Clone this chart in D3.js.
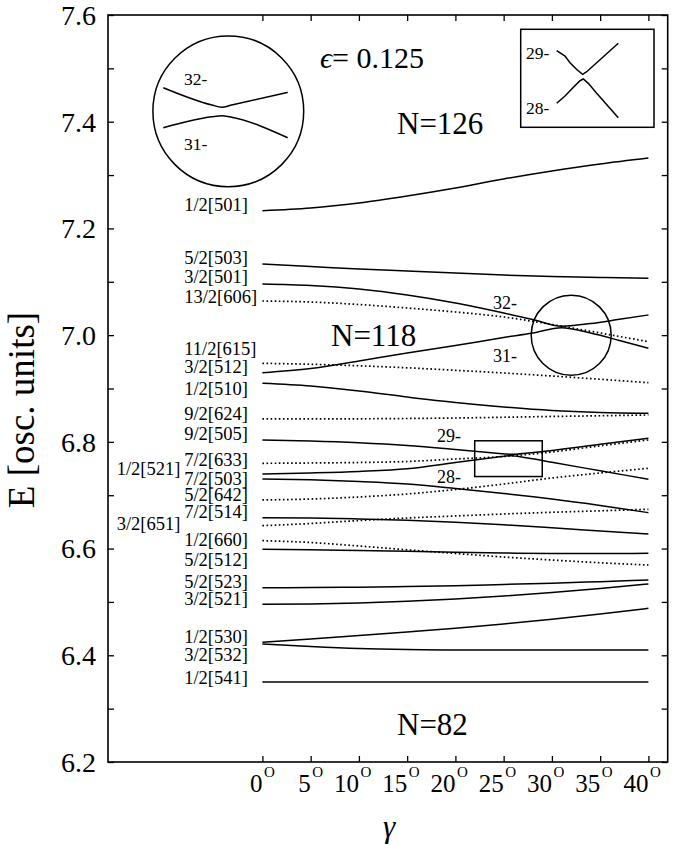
<!DOCTYPE html>
<html><head><meta charset="utf-8">
<script src="https://cdn.jsdelivr.net/npm/d3@7"></script>
<style>
html,body{margin:0;padding:0;background:#fff;}
text{font-family:"Liberation Serif","Times New Roman",serif;fill:#000;}
</style></head>
<body>
<svg id="chart" width="686" height="845"></svg>
<script>
// ---------- data ----------
const gammaTicks = [0,5,10,15,20,25,30,35,40];
const eTicks = [6.2,6.3,6.4,6.5,6.6,6.7,6.8,6.9,7.0,7.1,7.2,7.3,7.4,7.5,7.6];
const eTickLabels = [6.2,6.4,6.6,6.8,7.0,7.2,7.4,7.6];

const gamma   = [0,5,10,15,20,25,30,35,40];
const gamma29 = [0,5,10,15,20,24,25.7,27.5,30,35,40];
const gamma32 = [0,5,10,15,20,25,28,31,34,37,40];

const e1_501  = [7.2332,7.2383,7.2477,7.2608,7.2758,7.2927,7.3076,7.3208,7.3320];
const e5_503  = [7.1334,7.1287,7.1240,7.1202,7.1165,7.1127,7.1099,7.1080,7.1065];
const lev32   = [7.0959,7.0931,7.0865,7.0753,7.0603,7.0415,7.0293,7.0166,7.0218,7.0297,7.0378];
const e13_606 = [7.0640,7.0621,7.0574,7.0509,7.0434,7.0340,7.0200,7.0040,6.9877];
const lev31   = [6.9296,6.9375,6.9516,6.9666,6.9806,6.9956,7.0040,7.0140,7.0040,6.9900,6.9754];
const e11_615 = [6.9472,6.9454,6.9426,6.9388,6.9341,6.9291,6.9234,6.9173,6.9109];
const e1_510  = [6.9098,6.9047,6.8953,6.8841,6.8738,6.8654,6.8588,6.8551,6.8536];
const e9_624  = [6.8429,6.8429,6.8432,6.8438,6.8447,6.8461,6.8476,6.8489,6.8504];
const lev29   = [6.8035,6.8016,6.7983,6.7932,6.7857,6.7791,6.7767,6.7791,6.7840,6.7954,6.8067];
const e7_633  = [6.7598,6.7604,6.7613,6.7632,6.7679,6.7726,6.7810,6.7926,6.8035];
const lev28   = [6.7398,6.7417,6.7445,6.7495,6.7615,6.7705,6.7741,6.7698,6.7617,6.7458,6.7299];
const e7_503  = [6.7304,6.7289,6.7257,6.7210,6.7126,6.7032,6.6929,6.6808,6.6673];
const e5_642  = [6.6911,6.6929,6.6967,6.7023,6.7107,6.7210,6.7323,6.7417,6.7505];
const e7_514  = [6.6579,6.6573,6.6555,6.6530,6.6493,6.6446,6.6390,6.6330,6.6273];
const e3_651  = [6.6429,6.6470,6.6526,6.6573,6.6611,6.6648,6.6680,6.6708,6.6736];
const e1_660  = [6.6148,6.6114,6.6048,6.5977,6.5908,6.5842,6.5786,6.5734,6.5692];
const e5_512  = [6.5987,6.5979,6.5964,6.5949,6.5932,6.5917,6.5908,6.5906,6.5911];
const e5_523  = [6.5267,6.5269,6.5276,6.5288,6.5304,6.5327,6.5351,6.5380,6.5411];
const e3_521  = [6.4956,6.4962,6.4980,6.5012,6.5055,6.5112,6.5177,6.5252,6.5336];
const e1_530  = [6.4244,6.4306,6.4371,6.4437,6.4506,6.4587,6.4675,6.4774,6.4881];
const e3_532  = [6.4212,6.4165,6.4128,6.4109,6.4100,6.4100,6.4100,6.4100,6.4100];
const e1_541  = [6.3500,6.3500,6.3500,6.3500,6.3500,6.3500,6.3500,6.3500,6.3500];

// Nilsson labels at gamma = 0 (text, energy of label, column)
const labelText = ["1/2[501]","5/2[503]","3/2[501]","13/2[606]","11/2[615]","3/2[512]","1/2[510]",
  "9/2[624]","9/2[505]","7/2[633]","1/2[521]","7/2[503]","5/2[642]","7/2[514]","3/2[651]",
  "1/2[660]","5/2[512]","5/2[523]","3/2[521]","1/2[530]","3/2[532]","1/2[541]"];
const labelE = [7.2439,7.1446,7.1090,7.0721,6.9741,6.9409,6.8991,6.8535,6.8161,6.7673,6.7505,
  6.7317,6.7004,6.6691,6.6474,6.6161,6.5786,6.5380,6.5068,6.4349,6.4006,6.3588];
const labelCol = [0,0,0,0,0,0,0,0,0,0,1,0,0,0,1,0,0,0,0,0,0,0];

// level numbers near the crossings: [text, gamma, E]
const crossText = ["32-","31-","29-","28-"];
const crossG = [23.9,23.9,18.1,18.1];
const crossE = [7.0612,6.9619,6.8119,6.7342];

// magnified insets (local units 0..10)
const circU = [0,3.9,4.7,5.5,10];
const circUpper = [10.06,6.6,6.14,6.6,9.14];
const circLower = [2.06,4.26,4.46,4.14,0.06];
const rectUpperU = [0,1.35,2.16,3.34,4.22,4.87,10];
const rectUpperV = [9.0,8.29,7.39,6.41,5.83,6.18,10];
const rectLowerU = [0,1.35,2.44,3.78,4.32,5.13,6.49,10];
const rectLowerV = [1.94,2.92,3.86,4.97,5.2,4.62,3.28,0];

// ---------- chart ----------
const svg = d3.select("#chart");
const L = 108, R = 667.7, T = 15, B = 762;
const x = d3.scaleLinear().domain([-16, 42]).range([L, R]);
const y = d3.scaleLinear().domain([6.2, 7.6]).range([B, T]);

const levels = [
  {g:gamma,e:e1_501,dot:false},{g:gamma,e:e5_503,dot:false},{g:gamma32,e:lev32,dot:false},
  {g:gamma,e:e13_606,dot:true},{g:gamma32,e:lev31,dot:false},{g:gamma,e:e11_615,dot:true},
  {g:gamma,e:e1_510,dot:false},{g:gamma,e:e9_624,dot:true},{g:gamma29,e:lev29,dot:false},
  {g:gamma,e:e7_633,dot:true},{g:gamma29,e:lev28,dot:false},{g:gamma,e:e7_503,dot:false},
  {g:gamma,e:e5_642,dot:true},{g:gamma,e:e7_514,dot:false},{g:gamma,e:e3_651,dot:true},
  {g:gamma,e:e1_660,dot:true},{g:gamma,e:e5_512,dot:false},{g:gamma,e:e5_523,dot:false},
  {g:gamma,e:e3_521,dot:false},{g:gamma,e:e1_530,dot:false},{g:gamma,e:e3_532,dot:false},
  {g:gamma,e:e1_541,dot:false}
];

const line = d3.line().x(d=>x(d[0])).y(d=>y(d[1])).curve(d3.curveMonotoneX);
svg.append("g").selectAll("path").data(levels).join("path")
  .attr("d", d => line(d.g.map((g,i)=>[g,d.e[i]])))
  .attr("fill","none").attr("stroke","#000")
  .attr("stroke-width", d=>d.dot?1.7:1.5)
  .attr("stroke-dasharray", d=>d.dot?"1.6,2.5":null);

// axes (inward ticks, mirrored)
const ax = (a)=>a.tickSizeOuter(0).tickFormat("");
svg.append("g").attr("transform",`translate(0,${B})`)
  .call(ax(d3.axisBottom(x).tickValues(gammaTicks).tickSizeInner(-6)));
svg.append("g").attr("transform",`translate(0,${T})`)
  .call(ax(d3.axisTop(x).tickValues(gammaTicks).tickSizeInner(-6)));
svg.append("g").attr("transform",`translate(${L},0)`)
  .call(ax(d3.axisLeft(y).tickValues(eTicks).tickSizeInner(-6)));
svg.append("g").attr("transform",`translate(${R},0)`)
  .call(ax(d3.axisRight(y).tickValues(eTicks).tickSizeInner(-6)));
svg.selectAll(".domain").remove();
svg.selectAll(".tick line").attr("stroke","#000").attr("stroke-width",1.3);
svg.append("rect").attr("x",L).attr("y",T).attr("width",R-L).attr("height",B-T)
  .attr("fill","none").attr("stroke","#000").attr("stroke-width",1.6);

// y tick labels
svg.append("g").selectAll("text").data(eTickLabels).join("text")
  .attr("x",96).attr("y",d=>y(d)).attr("dy","0.35em").attr("text-anchor","end")
  .attr("font-size",28).text(d=>d.toFixed(1));

// x tick labels with superscript O
const xl = svg.append("g");
xl.selectAll("text.n").data(gammaTicks).join("text").attr("class","n")
  .attr("x",d=>x(d)).attr("y",792).attr("text-anchor","end").attr("font-size",25).text(d=>d);
xl.selectAll("text.o").data(gammaTicks).join("text").attr("class","o")
  .attr("x",d=>x(d)+1.5).attr("y",777).attr("font-size",15).text("O");

// axis titles
svg.append("text").attr("x",389).attr("y",837).attr("text-anchor","middle")
  .attr("font-size",31).attr("font-style","italic").text("γ");
svg.append("text").attr("transform","translate(34,410) rotate(-90)").attr("text-anchor","middle")
  .attr("font-size",37).text("E [osc. units]");

// Nilsson labels
svg.append("g").selectAll("text").data(labelText).join("text")
  .attr("x",(d,i)=>labelCol[i]?x(-15.1):x(-8.1)).attr("y",(d,i)=>y(labelE[i])).attr("dy","0.35em")
  .attr("font-size",18.5).text(d=>d);

// shell labels
svg.append("text").attr("x",397).attr("y",134).attr("font-size",31).text("N=126");
svg.append("text").attr("x",331).attr("y",346).attr("font-size",31).text("N=118");
svg.append("text").attr("x",397).attr("y",735).attr("font-size",31).text("N=82");
const eps = svg.append("text").attr("x",320).attr("y",68).attr("font-size",30);
eps.append("tspan").attr("font-style","italic").text("ϵ");
eps.append("tspan").text("= 0.125");

// crossing labels
svg.append("g").selectAll("text").data(crossText).join("text")
  .attr("x",(d,i)=>x(crossG[i])).attr("y",(d,i)=>y(crossE[i])).attr("dy","0.35em")
  .attr("font-size",18).text(d=>d);

// markers of the crossing regions
svg.append("circle").attr("cx",x(32)).attr("cy",y(7.0)).attr("r",40)
  .attr("fill","none").attr("stroke","#000").attr("stroke-width",1.5);
svg.append("rect").attr("x",x(22)).attr("y",y(6.802)).attr("width",x(29)-x(22)).attr("height",y(6.735)-y(6.802))
  .attr("fill","none").attr("stroke","#000").attr("stroke-width",1.5);

// circle inset (31-/32- magnified)
svg.append("circle").attr("cx",228.3).attr("cy",111.3).attr("r",75.4)
  .attr("fill","#fff").attr("stroke","#000").attr("stroke-width",1.5);
const xc = d3.scaleLinear().domain([0,10]).range([163.3,287.7]);
const yc = d3.scaleLinear().domain([0,10]).range([138,88]);
const lc = d3.line().x(d=>xc(d[0])).y(d=>yc(d[1])).curve(d3.curveMonotoneX);
[circUpper,circLower].forEach(v=>{
  svg.append("path").attr("d",lc(circU.map((u,i)=>[u,v[i]])))
    .attr("fill","none").attr("stroke","#000").attr("stroke-width",1.5);
});
svg.append("text").attr("x",184).attr("y",79).attr("dy","0.35em").attr("font-size",17.5).text("32-");
svg.append("text").attr("x",184).attr("y",144).attr("dy","0.35em").attr("font-size",17.5).text("31-");

// rectangle inset (28-/29- magnified)
svg.append("rect").attr("x",520.7).attr("y",29.3).attr("width",133.3).attr("height",98)
  .attr("fill","#fff").attr("stroke","#000").attr("stroke-width",1.5);
const xr = d3.scaleLinear().domain([0,10]).range([556.7,618.3]);
const yr = d3.scaleLinear().domain([0,10]).range([117.7,43.3]);
const lr = d3.line().x(d=>xr(d[0])).y(d=>yr(d[1]));
svg.append("path").attr("d",lr(rectUpperU.map((u,i)=>[u,rectUpperV[i]])))
  .attr("fill","none").attr("stroke","#000").attr("stroke-width",1.5);
svg.append("path").attr("d",lr(rectLowerU.map((u,i)=>[u,rectLowerV[i]])))
  .attr("fill","none").attr("stroke","#000").attr("stroke-width",1.5);
svg.append("text").attr("x",526).attr("y",53.3).attr("dy","0.35em").attr("font-size",17.5).text("29-");
svg.append("text").attr("x",526).attr("y",108.3).attr("dy","0.35em").attr("font-size",17.5).text("28-");
</script>
</body></html>
